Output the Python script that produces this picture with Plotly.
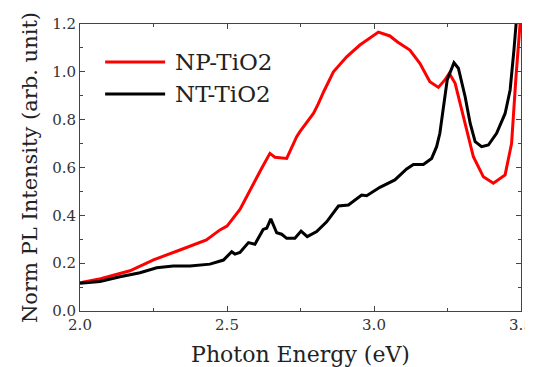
import plotly.graph_objects as go

series_names = ["NP-TiO2", "NT-TiO2"]
series_colors = ["#ff0000", "#000000"]

np_energy = [2.00, 2.07, 2.17, 2.25, 2.34, 2.43, 2.476, 2.50, 2.544, 2.578, 2.618, 2.646,
             2.663, 2.703, 2.737, 2.748, 2.777, 2.794, 2.81, 2.83, 2.862, 2.907, 2.952,
             2.992, 3.015, 3.054, 3.08, 3.122, 3.156, 3.19, 3.219, 3.241, 3.256, 3.276,
             3.304, 3.338, 3.372, 3.406, 3.446, 3.468, 3.483, 3.497, 3.50]
np_intensity = [0.118, 0.135, 0.168, 0.214, 0.255, 0.297, 0.339, 0.355, 0.425, 0.506, 0.597, 0.659,
                0.643, 0.638, 0.729, 0.75, 0.80, 0.826, 0.865, 0.92, 1.0, 1.063, 1.112,
                1.147, 1.166, 1.15, 1.125, 1.091, 1.036, 0.959, 0.935, 0.966, 0.994, 0.952,
                0.812, 0.645, 0.561, 0.534, 0.569, 0.701, 0.98, 1.2, 1.25]

nt_energy = [2.00, 2.068, 2.136, 2.204, 2.261, 2.317, 2.374, 2.442, 2.488, 2.516, 2.527, 2.544,
             2.573, 2.595, 2.623, 2.635, 2.649, 2.669, 2.686, 2.703, 2.731, 2.752, 2.773,
             2.805, 2.839, 2.879, 2.913, 2.958, 2.975, 3.02, 3.071, 3.111, 3.134, 3.168,
             3.196, 3.213, 3.224, 3.236, 3.249, 3.272, 3.287, 3.31, 3.327, 3.344, 3.366,
             3.389, 3.417, 3.446, 3.463, 3.476, 3.485, 3.49]
nt_intensity = [0.116, 0.123, 0.143, 0.16, 0.181, 0.188, 0.188, 0.196, 0.213, 0.248, 0.238, 0.245,
                0.286, 0.279, 0.341, 0.346, 0.385, 0.327, 0.321, 0.304, 0.304, 0.334, 0.311,
                0.332, 0.373, 0.439, 0.443, 0.485, 0.482, 0.517, 0.548, 0.594, 0.613, 0.613,
                0.638, 0.687, 0.743, 0.854, 0.966, 1.038, 1.015, 0.896, 0.785, 0.708, 0.687,
                0.694, 0.743, 0.826, 0.924, 1.091, 1.2, 1.3]

x_ticks = [2.0, 2.5, 3.0, 3.5]
y_ticks = [0.0, 0.2, 0.4, 0.6, 0.8, 1.0, 1.2]

FONT = "DejaVu Serif"

fig = go.Figure()
for name, color, xs, ys in [(series_names[0], series_colors[0], np_energy, np_intensity),
                            (series_names[1], series_colors[1], nt_energy, nt_intensity)]:
    fig.add_trace(go.Scatter(x=xs, y=ys, mode="lines", name=name,
                             line=dict(color=color, width=3), showlegend=False))

# manual legend
leg_y = [0.868, 0.756]
for name, color, yy in zip(series_names, series_colors, leg_y):
    fig.add_shape(type="line", xref="paper", yref="paper", x0=0.057, x1=0.193, y0=yy, y1=yy,
                  line=dict(color=color, width=3))
    fig.add_annotation(x=0.212, y=yy, xref="paper", yref="paper", text=name, showarrow=False,
                       xanchor="left", yanchor="middle",
                       font=dict(family=FONT, size=23, color="#222"))

axis_common = dict(showline=True, linecolor="#444", linewidth=1, mirror="ticks",
                   ticks="inside", ticklen=5, tickcolor="#444", showgrid=False, zeroline=False,
                   automargin=False,
                   tickfont=dict(family=FONT, size=15, color="#333"))

fig.update_xaxes(range=[2.0, 3.5], tickvals=x_ticks, ticktext=[f"{v:.1f}" for v in x_ticks],
                 minor=dict(ticks="inside", ticklen=3, dtick=0.25, tick0=2.0, tickcolor="#444"),
                 title=dict(text="Photon Energy (eV)", font=dict(family=FONT, size=22, color="#222"),
                            standoff=20),
                 **axis_common)
fig.update_yaxes(range=[0.0, 1.2], tickvals=y_ticks, ticktext=[f"{v:.1f}" for v in y_ticks],
                 minor=dict(ticks="inside", ticklen=3, dtick=0.1, tick0=0.0, tickcolor="#444"),
                 title=dict(text="Norm PL Intensity (arb. unit)", font=dict(family=FONT, size=21, color="#222"),
                            standoff=8),
                 **axis_common)

# page body has an 8px margin; compensate so the plot area lands where the reference has it
fig.update_layout(width=525, height=359, margin=dict(l=72, r=12, t=16, b=56),
                  plot_bgcolor="white", paper_bgcolor="white", showlegend=False)

fig.write_html("out.html")
